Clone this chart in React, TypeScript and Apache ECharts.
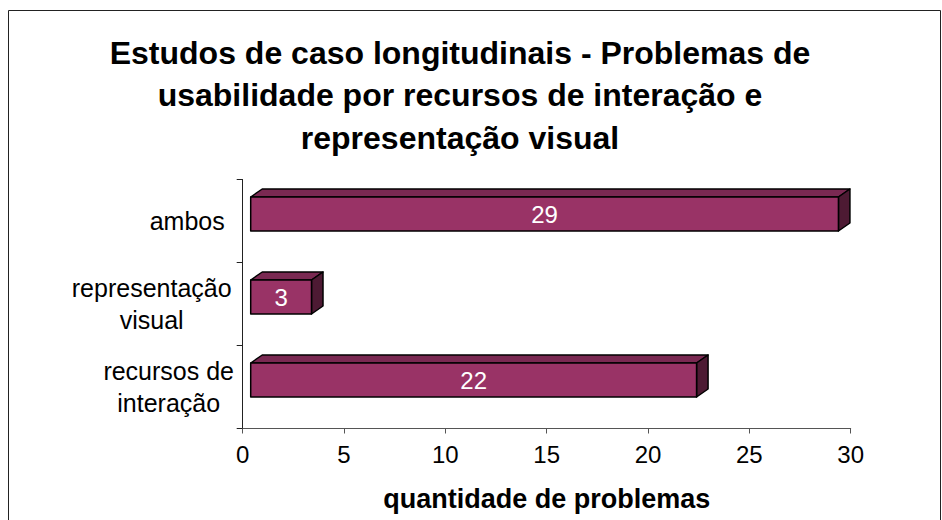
import React, { useEffect, useRef } from "react";
import * as echarts from "echarts";

const categories = ["recursos de interação", "representação visual", "ambos"];
const values = [22, 3, 29];
const titleLines = [
  "Estudos de caso longitudinais - Problemas de",
  "usabilidade por recursos de interação e",
  "representação visual",
];
const xAxisName = "quantidade de problemas";
const xMin = 0;
const xMax = 30;
const xInterval = 5;

const FONT = "'Liberation Sans', Arial, sans-serif";
const FRONT = "#993366";
const TOP = "#7A2952";
const SIDE = "#4D1A33";

export default function App() {
  const ref = useRef<HTMLDivElement>(null);
  useEffect(() => {
    if (!ref.current) return;
    const chart = echarts.init(ref.current, null, { renderer: "svg" });
    const labelFmt = (v: string) => {
      if (v === "ambos") return "{a|ambos}";
      if (v === "representação visual") return "{r|representação}\n{r|visual}";
      return "{i|recursos de}\n{i|interação}";
    };
    chart.setOption({
      animation: false,
      backgroundColor: "#fff",
      grid: { left: 242.7, top: 179.5, width: 608, height: 249 },
      graphic: [
        {
          type: "rect",
          shape: { x: 8.5, y: 10.5, width: 932, height: 530 },
          style: { fill: "none", stroke: "#222", lineWidth: 1 },
          silent: true,
        },
        {
          type: "text",
          x: 460,
          y: 95,
          style: {
            text: titleLines.join("\n"),
            fontFamily: FONT,
            fontSize: 32,
            fontWeight: "bold",
            fill: "#000",
            align: "center",
            verticalAlign: "middle",
            lineHeight: 42.5,
          },
        },
      ],
      xAxis: {
        type: "value",
        min: xMin,
        max: xMax,
        interval: xInterval,
        splitLine: { show: false },
        axisLine: { show: true, lineStyle: { color: "#555", width: 1 } },
        axisTick: { show: true, length: 5, lineStyle: { color: "#555" } },
        axisLabel: { fontSize: 24, fontFamily: FONT, color: "#000", margin: 14 },
        name: xAxisName,
        nameLocation: "middle",
        nameGap: 57,
        nameTextStyle: { fontSize: 27, fontWeight: "bold", fontFamily: FONT, color: "#000" },
      },
      yAxis: {
        type: "category",
        data: categories,
        axisLine: { show: true, lineStyle: { color: "#222", width: 1 } },
        axisTick: { show: true, length: 6, lineStyle: { color: "#222" } },
        axisLabel: {
          margin: 10,
          fontSize: 25,
          fontFamily: FONT,
          color: "#000",
          formatter: labelFmt,
          rich: {
            a: { fontSize: 25, fontFamily: FONT, color: "#000", padding: [0, 8, 0, 0] },
            r: { fontSize: 25, fontFamily: FONT, color: "#000", width: 162, align: "center", lineHeight: 32 },
            i: { fontSize: 25, fontFamily: FONT, color: "#000", width: 128, align: "center", lineHeight: 32 },
          },
        },
      },
      series: [
        {
          type: "custom",
          data: values.map((v, i) => [v, i]),
          encode: { x: 0, y: 1 },
          renderItem: (params: any, api: any) => {
            const v = api.value(0);
            const ci = api.value(1);
            const base = api.coord([0, ci]);
            const end = api.coord([v, ci]);
            const ox = 8;
            const h = 34;
            const dx = 11.5;
            const dy = -8;
            const cy = base[1] - 7;
            const x0 = base[0] + ox;
            const x1 = end[0] + ox;
            const top = cy - h / 2;
            const bot = cy + h / 2;
            const stroke = { stroke: "#000", lineWidth: 1.5, lineJoin: "round" };
            return {
              type: "group",
              children: [
                {
                  type: "polygon",
                  shape: { points: [[x0, top], [x0 + dx, top + dy], [x1 + dx, top + dy], [x1, top]] },
                  style: { fill: TOP, ...stroke },
                },
                {
                  type: "polygon",
                  shape: { points: [[x1, top], [x1 + dx, top + dy], [x1 + dx, bot + dy], [x1, bot]] },
                  style: { fill: SIDE, ...stroke },
                },
                {
                  type: "rect",
                  shape: { x: x0, y: top, width: x1 - x0, height: h },
                  style: { fill: FRONT, ...stroke },
                },
                {
                  type: "text",
                  x: (x0 + x1) / 2,
                  y: cy,
                  style: {
                    text: String(v),
                    fill: "#fff",
                    fontSize: 24,
                    fontFamily: FONT,
                    align: "center",
                    verticalAlign: "middle",
                  },
                },
              ],
            };
          },
        },
      ],
    });
    return () => chart.dispose();
  }, []);
  return (
    <div
      ref={ref}
      style={{ position: "fixed", left: 0, top: 0, width: 942, height: 520 }}
    />
  );
}
